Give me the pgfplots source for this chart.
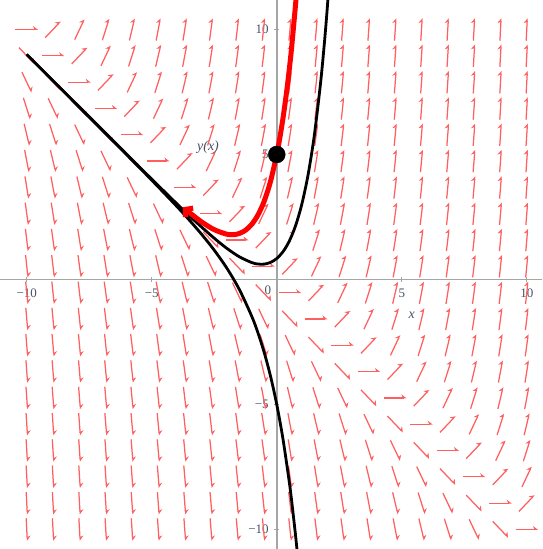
\documentclass[border=0pt]{standalone}
\usepackage{pgfplots}
\pgfplotsset{compat=1.18}
\usepackage{pgfplotstable}
\usepackage{fontspec}
\setmainfont{Liberation Serif}
\usetikzlibrary{arrows.meta}
\definecolor{fieldred}{RGB}{255,95,95}
\definecolor{labcol}{RGB}{70,80,100}
\definecolor{axcol}{RGB}{165,165,165}

\pgfplotstableread{
x y s
-10 -10 -20
-10 -8.95 -18.95
-10 -7.89 -17.89
-10 -6.84 -16.84
-10 -5.79 -15.79
-10 -4.74 -14.74
-10 -3.68 -13.68
-10 -2.63 -12.63
-10 -1.58 -11.58
-10 -0.53 -10.53
-10 0.53 -9.47
-10 1.58 -8.42
-10 2.63 -7.37
-10 3.68 -6.32
-10 4.74 -5.26
-10 5.79 -4.21
-10 6.84 -3.16
-10 7.89 -2.11
-10 8.95 -1.05
-10 10 0
-8.95 -10 -18.95
-8.95 -8.95 -17.89
-8.95 -7.89 -16.84
-8.95 -6.84 -15.79
-8.95 -5.79 -14.74
-8.95 -4.74 -13.68
-8.95 -3.68 -12.63
-8.95 -2.63 -11.58
-8.95 -1.58 -10.53
-8.95 -0.53 -9.47
-8.95 0.53 -8.42
-8.95 1.58 -7.37
-8.95 2.63 -6.32
-8.95 3.68 -5.26
-8.95 4.74 -4.21
-8.95 5.79 -3.16
-8.95 6.84 -2.11
-8.95 7.89 -1.05
-8.95 8.95 0
-8.95 10 1.05
-7.89 -10 -17.89
-7.89 -8.95 -16.84
-7.89 -7.89 -15.79
-7.89 -6.84 -14.74
-7.89 -5.79 -13.68
-7.89 -4.74 -12.63
-7.89 -3.68 -11.58
-7.89 -2.63 -10.53
-7.89 -1.58 -9.47
-7.89 -0.53 -8.42
-7.89 0.53 -7.37
-7.89 1.58 -6.32
-7.89 2.63 -5.26
-7.89 3.68 -4.21
-7.89 4.74 -3.16
-7.89 5.79 -2.11
-7.89 6.84 -1.05
-7.89 7.89 0
-7.89 8.95 1.05
-7.89 10 2.11
-6.84 -10 -16.84
-6.84 -8.95 -15.79
-6.84 -7.89 -14.74
-6.84 -6.84 -13.68
-6.84 -5.79 -12.63
-6.84 -4.74 -11.58
-6.84 -3.68 -10.53
-6.84 -2.63 -9.47
-6.84 -1.58 -8.42
-6.84 -0.53 -7.37
-6.84 0.53 -6.32
-6.84 1.58 -5.26
-6.84 2.63 -4.21
-6.84 3.68 -3.16
-6.84 4.74 -2.11
-6.84 5.79 -1.05
-6.84 6.84 0
-6.84 7.89 1.05
-6.84 8.95 2.11
-6.84 10 3.16
-5.79 -10 -15.79
-5.79 -8.95 -14.74
-5.79 -7.89 -13.68
-5.79 -6.84 -12.63
-5.79 -5.79 -11.58
-5.79 -4.74 -10.53
-5.79 -3.68 -9.47
-5.79 -2.63 -8.42
-5.79 -1.58 -7.37
-5.79 -0.53 -6.32
-5.79 0.53 -5.26
-5.79 1.58 -4.21
-5.79 2.63 -3.16
-5.79 3.68 -2.11
-5.79 4.74 -1.05
-5.79 5.79 0
-5.79 6.84 1.05
-5.79 7.89 2.11
-5.79 8.95 3.16
-5.79 10 4.21
-4.74 -10 -14.74
-4.74 -8.95 -13.68
-4.74 -7.89 -12.63
-4.74 -6.84 -11.58
-4.74 -5.79 -10.53
-4.74 -4.74 -9.47
-4.74 -3.68 -8.42
-4.74 -2.63 -7.37
-4.74 -1.58 -6.32
-4.74 -0.53 -5.26
-4.74 0.53 -4.21
-4.74 1.58 -3.16
-4.74 2.63 -2.11
-4.74 3.68 -1.05
-4.74 4.74 0
-4.74 5.79 1.05
-4.74 6.84 2.11
-4.74 7.89 3.16
-4.74 8.95 4.21
-4.74 10 5.26
-3.68 -10 -13.68
-3.68 -8.95 -12.63
-3.68 -7.89 -11.58
-3.68 -6.84 -10.53
-3.68 -5.79 -9.47
-3.68 -4.74 -8.42
-3.68 -3.68 -7.37
-3.68 -2.63 -6.32
-3.68 -1.58 -5.26
-3.68 -0.53 -4.21
-3.68 0.53 -3.16
-3.68 1.58 -2.11
-3.68 2.63 -1.05
-3.68 3.68 0
-3.68 4.74 1.05
-3.68 5.79 2.11
-3.68 6.84 3.16
-3.68 7.89 4.21
-3.68 8.95 5.26
-3.68 10 6.32
-2.63 -10 -12.63
-2.63 -8.95 -11.58
-2.63 -7.89 -10.53
-2.63 -6.84 -9.47
-2.63 -5.79 -8.42
-2.63 -4.74 -7.37
-2.63 -3.68 -6.32
-2.63 -2.63 -5.26
-2.63 -1.58 -4.21
-2.63 -0.53 -3.16
-2.63 0.53 -2.11
-2.63 1.58 -1.05
-2.63 2.63 0
-2.63 3.68 1.05
-2.63 4.74 2.11
-2.63 5.79 3.16
-2.63 6.84 4.21
-2.63 7.89 5.26
-2.63 8.95 6.32
-2.63 10 7.37
-1.58 -10 -11.58
-1.58 -8.95 -10.53
-1.58 -7.89 -9.47
-1.58 -6.84 -8.42
-1.58 -5.79 -7.37
-1.58 -4.74 -6.32
-1.58 -3.68 -5.26
-1.58 -2.63 -4.21
-1.58 -1.58 -3.16
-1.58 -0.53 -2.11
-1.58 0.53 -1.05
-1.58 1.58 0
-1.58 2.63 1.05
-1.58 3.68 2.11
-1.58 4.74 3.16
-1.58 5.79 4.21
-1.58 6.84 5.26
-1.58 7.89 6.32
-1.58 8.95 7.37
-1.58 10 8.42
-0.53 -10 -10.53
-0.53 -8.95 -9.47
-0.53 -7.89 -8.42
-0.53 -6.84 -7.37
-0.53 -5.79 -6.32
-0.53 -4.74 -5.26
-0.53 -3.68 -4.21
-0.53 -2.63 -3.16
-0.53 -1.58 -2.11
-0.53 -0.53 -1.05
-0.53 0.53 0
-0.53 1.58 1.05
-0.53 2.63 2.11
-0.53 3.68 3.16
-0.53 4.74 4.21
-0.53 5.79 5.26
-0.53 6.84 6.32
-0.53 7.89 7.37
-0.53 8.95 8.42
-0.53 10 9.47
0.53 -10 -9.47
0.53 -8.95 -8.42
0.53 -7.89 -7.37
0.53 -6.84 -6.32
0.53 -5.79 -5.26
0.53 -4.74 -4.21
0.53 -3.68 -3.16
0.53 -2.63 -2.11
0.53 -1.58 -1.05
0.53 -0.53 0
0.53 0.53 1.05
0.53 1.58 2.11
0.53 2.63 3.16
0.53 3.68 4.21
0.53 4.74 5.26
0.53 5.79 6.32
0.53 6.84 7.37
0.53 7.89 8.42
0.53 8.95 9.47
0.53 10 10.53
1.58 -10 -8.42
1.58 -8.95 -7.37
1.58 -7.89 -6.32
1.58 -6.84 -5.26
1.58 -5.79 -4.21
1.58 -4.74 -3.16
1.58 -3.68 -2.11
1.58 -2.63 -1.05
1.58 -1.58 0
1.58 -0.53 1.05
1.58 0.53 2.11
1.58 1.58 3.16
1.58 2.63 4.21
1.58 3.68 5.26
1.58 4.74 6.32
1.58 5.79 7.37
1.58 6.84 8.42
1.58 7.89 9.47
1.58 8.95 10.53
1.58 10 11.58
2.63 -10 -7.37
2.63 -8.95 -6.32
2.63 -7.89 -5.26
2.63 -6.84 -4.21
2.63 -5.79 -3.16
2.63 -4.74 -2.11
2.63 -3.68 -1.05
2.63 -2.63 0
2.63 -1.58 1.05
2.63 -0.53 2.11
2.63 0.53 3.16
2.63 1.58 4.21
2.63 2.63 5.26
2.63 3.68 6.32
2.63 4.74 7.37
2.63 5.79 8.42
2.63 6.84 9.47
2.63 7.89 10.53
2.63 8.95 11.58
2.63 10 12.63
3.68 -10 -6.32
3.68 -8.95 -5.26
3.68 -7.89 -4.21
3.68 -6.84 -3.16
3.68 -5.79 -2.11
3.68 -4.74 -1.05
3.68 -3.68 0
3.68 -2.63 1.05
3.68 -1.58 2.11
3.68 -0.53 3.16
3.68 0.53 4.21
3.68 1.58 5.26
3.68 2.63 6.32
3.68 3.68 7.37
3.68 4.74 8.42
3.68 5.79 9.47
3.68 6.84 10.53
3.68 7.89 11.58
3.68 8.95 12.63
3.68 10 13.68
4.74 -10 -5.26
4.74 -8.95 -4.21
4.74 -7.89 -3.16
4.74 -6.84 -2.11
4.74 -5.79 -1.05
4.74 -4.74 0
4.74 -3.68 1.05
4.74 -2.63 2.11
4.74 -1.58 3.16
4.74 -0.53 4.21
4.74 0.53 5.26
4.74 1.58 6.32
4.74 2.63 7.37
4.74 3.68 8.42
4.74 4.74 9.47
4.74 5.79 10.53
4.74 6.84 11.58
4.74 7.89 12.63
4.74 8.95 13.68
4.74 10 14.74
5.79 -10 -4.21
5.79 -8.95 -3.16
5.79 -7.89 -2.11
5.79 -6.84 -1.05
5.79 -5.79 0
5.79 -4.74 1.05
5.79 -3.68 2.11
5.79 -2.63 3.16
5.79 -1.58 4.21
5.79 -0.53 5.26
5.79 0.53 6.32
5.79 1.58 7.37
5.79 2.63 8.42
5.79 3.68 9.47
5.79 4.74 10.53
5.79 5.79 11.58
5.79 6.84 12.63
5.79 7.89 13.68
5.79 8.95 14.74
5.79 10 15.79
6.84 -10 -3.16
6.84 -8.95 -2.11
6.84 -7.89 -1.05
6.84 -6.84 0
6.84 -5.79 1.05
6.84 -4.74 2.11
6.84 -3.68 3.16
6.84 -2.63 4.21
6.84 -1.58 5.26
6.84 -0.53 6.32
6.84 0.53 7.37
6.84 1.58 8.42
6.84 2.63 9.47
6.84 3.68 10.53
6.84 4.74 11.58
6.84 5.79 12.63
6.84 6.84 13.68
6.84 7.89 14.74
6.84 8.95 15.79
6.84 10 16.84
7.89 -10 -2.11
7.89 -8.95 -1.05
7.89 -7.89 0
7.89 -6.84 1.05
7.89 -5.79 2.11
7.89 -4.74 3.16
7.89 -3.68 4.21
7.89 -2.63 5.26
7.89 -1.58 6.32
7.89 -0.53 7.37
7.89 0.53 8.42
7.89 1.58 9.47
7.89 2.63 10.53
7.89 3.68 11.58
7.89 4.74 12.63
7.89 5.79 13.68
7.89 6.84 14.74
7.89 7.89 15.79
7.89 8.95 16.84
7.89 10 17.89
8.95 -10 -1.05
8.95 -8.95 0
8.95 -7.89 1.05
8.95 -6.84 2.11
8.95 -5.79 3.16
8.95 -4.74 4.21
8.95 -3.68 5.26
8.95 -2.63 6.32
8.95 -1.58 7.37
8.95 -0.53 8.42
8.95 0.53 9.47
8.95 1.58 10.53
8.95 2.63 11.58
8.95 3.68 12.63
8.95 4.74 13.68
8.95 5.79 14.74
8.95 6.84 15.79
8.95 7.89 16.84
8.95 8.95 17.89
8.95 10 18.95
10 -10 0
10 -8.95 1.05
10 -7.89 2.11
10 -6.84 3.16
10 -5.79 4.21
10 -4.74 5.26
10 -3.68 6.32
10 -2.63 7.37
10 -1.58 8.42
10 -0.53 9.47
10 0.53 10.53
10 1.58 11.58
10 2.63 12.63
10 3.68 13.68
10 4.74 14.74
10 5.79 15.79
10 6.84 16.84
10 7.89 17.89
10 8.95 18.95
10 10 20
}\field

\begin{document}
\begin{tikzpicture}
\begin{axis}[
  scale only axis, width=542pt, height=549pt,
  xmin=-11.07, xmax=10.61, ymin=-10.78, ymax=11.18,
  axis lines=middle,
  axis line style={draw=axcol, line width=1.8pt, -},
  xtick={-10,-5,5,10}, ytick={-10,-5,5,10},
  xticklabels={−10,−5,5,10}, yticklabels={−10,−5,5,10},
  minor tick num=4,
  major tick length=5pt, minor tick length=3pt,
  tick style={draw=axcol, line width=0.8pt},
  tick label style={font=\fontsize{13}{15}\selectfont, text=labcol},
  xticklabel style={yshift=-3pt},
  yticklabel style={xshift=-2pt},
  extra x ticks={0}, extra x tick labels={0},
  extra x tick style={xticklabel style={xshift=-9pt}, major tick length=0pt},
  clip=true,
]
\addplot[draw=fieldred, line width=1.25pt, -{Stealth[harpoon, length=4.5pt, width=7pt]},
  quiver={u={0.9/sqrt(1+(\thisrow{s})^2)}, v={0.9*\thisrow{s}/sqrt(1+(\thisrow{s})^2)}}]
  table[x expr={\thisrow{x}-0.45/sqrt(1+(\thisrow{s})^2)}, y expr={\thisrow{y}-0.45*\thisrow{s}/sqrt(1+(\thisrow{s})^2)}] {\field};

% y = (5/e) e^x - x - 1
\addplot[black, line width=2.8pt, smooth] coordinates {
(-10,9.0001) (-9,8.0002) (-8,7.0006) (-7,6.0017) (-6,5.0046) (-5,4.0124) (-4,3.0337) (-3.5,2.5556)
(-3,2.0916) (-2.5,1.6510) (-2,1.2489) (-1.5,0.9104) (-1,0.6767) (-0.75,0.6189)
(-0.5,0.6157) (-0.25,0.6825) (0,0.8394) (0.25,1.1118) (0.5,1.5327) (0.75,2.1440)
(1,3.0) (1.25,4.1701) (1.5,5.7437) (1.75,7.835) (1.9,9.398) (2,10.591) (2.1,11.921)
};
% y = -4 e^x - x - 1
\addplot[black, line width=2.8pt, smooth] coordinates {
(-10,8.9998) (-9,7.9995) (-8,6.9987) (-7,5.9964) (-6,4.990) (-5,3.973) (-4,2.927) (-3.5,2.379)
(-3,1.801) (-2.5,1.172) (-2,0.459) (-1.5,-0.393) (-1,-1.472) (-0.75,-2.139)
(-0.5,-2.926) (-0.25,-3.865) (0,-5) (0.25,-6.386) (0.5,-8.095) (0.6,-8.889)
(0.75,-10.218) (0.85,-11.208)
};
% y = 6 e^x - x - 1
\addplot[red, line width=5pt, smooth, {Straight Barb[length=5pt, width=12pt]}-] coordinates {
(-3.75,2.891) (-3.5,2.6812) (-3,2.2987) (-2.5,1.9925) (-2,1.8120) (-1.75,1.7926)
(-1.5,1.8388) (-1.25,1.9690) (-1,2.2073) (-0.75,2.5842) (-0.5,3.1392)
(-0.25,3.9228) (0,5) (0.1,5.531) (0.25,6.4542) (0.4,7.551) (0.5,8.3923)
(0.6,9.333) (0.78,11.309)
};
\addplot[only marks, mark=*, mark size=8.5pt, black] coordinates {(0,5)};

\node[font=\itshape\fontsize{14}{16}\selectfont, text=labcol] at (axis cs:5.4,-1.45) {x};
\node[font=\itshape\fontsize{14}{16}\selectfont, text=labcol] at (axis cs:-2.75,5.3) {y(x)};
\end{axis}
\pgfresetboundingbox
\path (current axis.south west) rectangle (current axis.north east);
\end{tikzpicture}
\end{document}
